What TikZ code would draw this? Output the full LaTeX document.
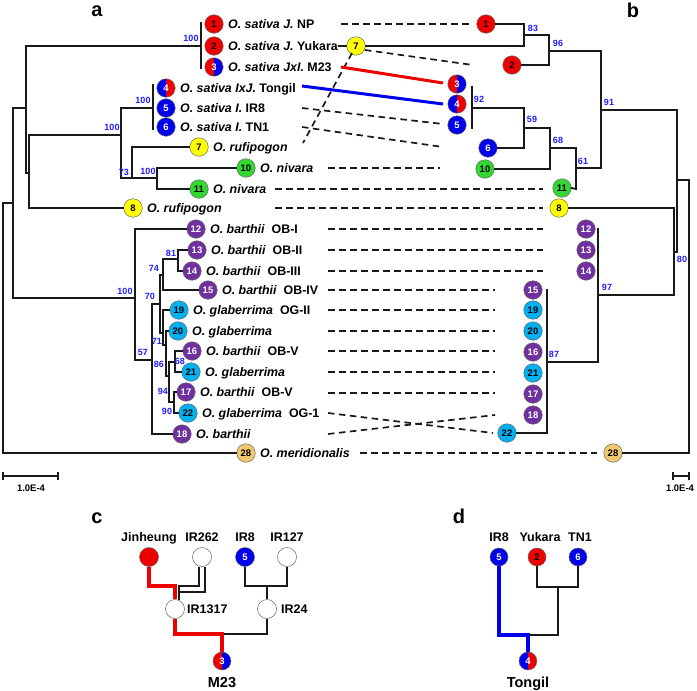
\documentclass[tikz,border=0pt]{standalone}
\usepackage{fontspec}
\setmainfont{Liberation Sans}
\definecolor{cred}{RGB}{237,0,0}
\definecolor{cblue}{RGB}{0,0,235}
\definecolor{cyel}{RGB}{255,255,0}
\definecolor{cgrn}{RGB}{50,215,50}
\definecolor{cpur}{RGB}{112,48,160}
\definecolor{ccyan}{RGB}{0,176,240}
\definecolor{ctan}{RGB}{242,200,110}
\definecolor{bsblue}{RGB}{30,30,255}
\definecolor{lnk}{RGB}{25,25,25}
\newcommand\fsz[1]{\fontsize{#1}{#1}\selectfont}
\begin{document}
\begin{tikzpicture}[x=1pt,y=-1pt,
  br/.style={line width=1.8pt, draw=lnk, line join=miter, line cap=rect},
  dl/.style={line width=1.7pt, draw=lnk, dash pattern=on 6.5pt off 4.5pt},
  bs/.style={text=bsblue, font=\fsz{9}\bfseries, inner sep=0},
  lab/.style={anchor=base west, inner sep=0, yshift=-4.3pt, font=\fsz{12.4}\bfseries},
  panel/.style={inner sep=0, font=\fsz{20}\bfseries},
  cnode/.style={circle, draw=black!60, line width=0.5pt, minimum size=18.5pt, inner sep=0, font=\fsz{9.5}\bfseries},
  cR/.style={cnode, fill=cred, text=black},
  cB/.style={cnode, fill=cblue, text=white},
  cY/.style={cnode, fill=cyel, text=black},
  cG/.style={cnode, fill=cgrn, text=black},
  cP/.style={cnode, fill=cpur, text=white},
  cC/.style={cnode, fill=ccyan, text=black},
  cT/.style={cnode, fill=ctan, text=black},
  cW/.style={cnode, fill=white, minimum size=19pt},
  sRB/.style={cnode, text=white, path picture={\fill[cred] (path picture bounding box.south west) rectangle (path picture bounding box.north); \fill[cblue] (path picture bounding box.south) rectangle (path picture bounding box.north east);}},
  sBR/.style={cnode, text=white, path picture={\fill[cblue] (path picture bounding box.south west) rectangle (path picture bounding box.north); \fill[cred] (path picture bounding box.south) rectangle (path picture bounding box.north east);}},
  plab/.style={anchor=base, inner sep=0, font=\fsz{12.5}\bfseries},
  redped/.style={line width=4pt, draw=cred, line join=miter},
  blueped/.style={line width=4pt, draw=cblue, line join=miter},
  blkped/.style={line width=1.8pt, draw=lnk, line join=miter},
  sbar/.style={line width=1.2pt, draw=lnk}
]
\useasboundingbox (0,0) rectangle (697,691);

% ---------- panel letters
\node[panel] (pa) at (97,11) {a};
\node[panel] (pb) at (633,10) {b};
\node[panel] (pc) at (97,518) {c};
\node[panel] (pd) at (459,516) {d};

% ---------- left tree circles
\node[cR] (L1) at (214,24) {1};
\node[cR] (L2) at (214,46) {2};
\node[sRB] (L3) at (214,67) {3};
\node[sBR] (L4) at (166,88) {4};
\node[cB] (L5) at (166,108) {5};
\node[cB] (L6) at (166,127) {6};
\node[cY] (L7) at (199,147) {7};
\node[cG] (L10) at (246,168) {10};
\node[cG] (L11) at (199,189) {11};
\node[cY] (L8) at (133,208) {8};
\node[cP] (L12) at (196,229) {12};
\node[cP] (L13) at (197,250) {13};
\node[cP] (L14) at (192,271) {14};
\node[cP] (L15) at (208,290) {15};
\node[cC] (L19) at (179,310) {19};
\node[cC] (L20) at (178,331) {20};
\node[cP] (L16) at (192,351) {16};
\node[cC] (L21) at (191,372) {21};
\node[cP] (L17) at (186,392) {17};
\node[cC] (L22) at (188,413) {22};
\node[cP] (L18) at (182,434) {18};
\node[cT] (L28) at (246,453) {28};

% ---------- left labels
\node[lab] (T1) at ([xshift=4.5pt]L1.east) {\textit{O. sativa J.} NP};
\node[lab] (T2) at ([xshift=4.5pt]L2.east) {\textit{O. sativa J.} Yukara};
\node[lab] (T3) at ([xshift=4.5pt]L3.east) {\textit{O. sativa JxI.} M23};
\node[lab] (T4) at ([xshift=4.5pt]L4.east) {\textit{O. sativa IxJ.} Tongil};
\node[lab] (T5) at ([xshift=4.5pt]L5.east) {\textit{O. sativa I.} IR8};
\node[lab] (T6) at ([xshift=4.5pt]L6.east) {\textit{O. sativa I.} TN1};
\node[lab] (T7) at ([xshift=4.5pt]L7.east) {\textit{O. rufipogon}};
\node[lab] (T10) at ([xshift=4.5pt]L10.east) {\textit{O. nivara}};
\node[lab] (T11) at ([xshift=4.5pt]L11.east) {\textit{O. nivara}};
\node[lab] (T8) at ([xshift=4.5pt]L8.east) {\textit{O. rufipogon}};
\node[lab] (T12) at ([xshift=4.5pt]L12.east) {\textit{O. barthii}\ \ OB-I};
\node[lab] (T13) at ([xshift=4.5pt]L13.east) {\textit{O. barthii}\ \ OB-II};
\node[lab] (T14) at ([xshift=4.5pt]L14.east) {\textit{O. barthii}\ \ OB-III};
\node[lab] (T15) at ([xshift=4.5pt]L15.east) {\textit{O. barthii}\ \ OB-IV};
\node[lab] (T19) at ([xshift=4.5pt]L19.east) {\textit{O. glaberrima}\ \ OG-II};
\node[lab] (T20) at ([xshift=4.5pt]L20.east) {\textit{O. glaberrima}};
\node[lab] (T16) at ([xshift=4.5pt]L16.east) {\textit{O. barthii}\ \ OB-V};
\node[lab] (T21) at ([xshift=4.5pt]L21.east) {\textit{O. glaberrima}};
\node[lab] (T17) at ([xshift=4.5pt]L17.east) {\textit{O. barthii}\ \ OB-V};
\node[lab] (T22) at ([xshift=4.5pt]L22.east) {\textit{O. glaberrima}\ \ OG-1};
\node[lab] (T18) at ([xshift=4.5pt]L18.east) {\textit{O. barthii}};
\node[lab] (T28) at ([xshift=4.5pt]L28.east) {\textit{O. meridionalis}};

% ---------- right tree circles
\node[cR] (R1) at (486,24) {1};
\node[cY] (R7) at (356,46) {7};
\node[cR] (R2) at (512,65) {2};
\node[sRB] (R3) at (457,84) {3};
\node[sBR] (R4) at (457,104) {4};
\node[cB] (R5) at (457,125) {5};
\node[cB] (R6) at (488,148) {6};
\node[cG] (R10) at (485,169) {10};
\node[cG] (R11) at (562,188) {11};
\node[cY] (R8) at (559,208) {8};
\node[cP] (R12) at (586,229) {12};
\node[cP] (R13) at (586,250) {13};
\node[cP] (R14) at (586,271) {14};
\node[cP] (R15) at (533,290) {15};
\node[cC] (R19) at (533,310) {19};
\node[cC] (R20) at (533,331) {20};
\node[cP] (R16) at (533,352) {16};
\node[cC] (R21) at (533,373) {21};
\node[cP] (R17) at (533,394) {17};
\node[cP] (R18) at (533,415) {18};
\node[cC] (R22) at (507,433) {22};
\node[cT] (R28) at (613,453) {28};

% ---------- left tree branches
\draw[br] (201,23) -- (201,68);
\draw[br] (26,46) -- (201,46);
\draw[br] (26,46) -- (26,173) -- (29,173);
\draw[br] (29,135) -- (29,208) -- (L8.west);
\draw[br] (13,108) -- (26,108);
\draw[br] (13,108) -- (13,298) -- (135,298);
\draw[br] (3,203) -- (13,203);
\draw[br] (3,203) -- (3,453) -- (L28.west);
\draw[br] (29,135) -- (121,135);
\draw[br] (121,108) -- (121,178) -- (157,178);
\draw[br] (121,108) -- (153,108);
\draw[br] (153,85) -- (153,129);
\draw[br] (L7.west) -- (132,147) -- (132,178);
\draw[br] (L10.west) -- (157,168) -- (157,189) -- (L11.west);
\draw[br] (L12.west) -- (135,229) -- (135,360) -- (152,360);
\draw[br] (152,304) -- (152,434) -- (L18.west);
\draw[br] (152,304) -- (160,304);
\draw[br] (160,275) -- (160,333);
\draw[br] (160,275) -- (163,275);
\draw[br] (178,259) -- (163,259) -- (163,290) -- (L15.west);
\draw[br] (L13.west) -- (178,250) -- (178,271) -- (L14.west);
\draw[br] (160,333) -- (163,333);
\draw[br] (L19.west) -- (163,310) -- (163,345) -- (166,345);
\draw[br] (L20.west) -- (166,331) -- (166,376) -- (169,376);
\draw[br] (169,362) -- (169,402);
\draw[br] (169,362) -- (175,362);
\draw[br] (L16.west) -- (175,351) -- (175,372) -- (L21.west);
\draw[br] (169,402) -- (174,402);
\draw[br] (L17.west) -- (174,392) -- (174,413) -- (L22.west);

% ---------- left bootstrap values
\node[bs] (b1) at (191,38) {100};
\node[bs] (b2) at (143,100) {100};
\node[bs] (b3) at (112,127) {100};
\node[bs] (b4) at (124,172) {73};
\node[bs] (b5) at (148,171) {100};
\node[bs] (b6) at (125,291) {100};
\node[bs] (b7) at (171,253) {81};
\node[bs] (b8) at (154,268) {74};
\node[bs] (b9) at (150,296) {70};
\node[bs] (b10) at (157,341) {71};
\node[bs] (b11) at (143,352) {57};
\node[bs] (b12) at (159,364) {86};
\node[bs] (b13) at (180,361) {68};
\node[bs] (b14) at (163,391) {94};
\node[bs] (b15) at (167,411) {90};

% ---------- right tree branches
\draw[br] (R1.east) -- (524,24) -- (524,46) -- (R7.east);
\draw[br] (524,35) -- (549,35);
\draw[br] (549,35) -- (549,65) -- (R2.east);
\draw[br] (549,51) -- (601,51) -- (601,168) -- (576,168);
\draw[br] (472,87) -- (472,128);
\draw[br] (472,108) -- (524,108) -- (524,148) -- (R6.east);
\draw[br] (524,128) -- (550,128) -- (550,169) -- (R10.east);
\draw[br] (550,148) -- (576,148) -- (576,189) -- (R11.east);
\draw[br] (601,110) -- (677,110) -- (677,252) -- (674,252);
\draw[br] (R8.east) -- (674,208) -- (674,295) -- (598,295);
\draw[br] (598,229) -- (598,362) -- (547,362);
\draw[br] (547,290) -- (547,433) -- (R22.east);
\draw[br] (677,180) -- (689,180) -- (689,453) -- (R28.east);

% ---------- right bootstrap values
\node[bs] (c1) at (533,28) {83};
\node[bs] (c2) at (558,43) {96};
\node[bs] (c3) at (479,99) {92};
\node[bs] (c4) at (532,119) {59};
\node[bs] (c5) at (558,140) {68};
\node[bs] (c6) at (583,161) {61};
\node[bs] (c7) at (609,102) {91};
\node[bs] (c8) at (607,287) {97};
\node[bs] (c9) at (554,354) {87};
\node[bs] (c10) at (682,259) {80};

% ---------- connections between trees
\draw[line width=1.5pt, draw=lnk] (T2.east |- L2) -- (R7.west);
\foreach \n/\xa/\ya/\xb/\yb in {1/341/24/473/24, 2/365/50/473/65, 3/352/53/303/143,
  5/302/108/443/124, 6/302/127/443/147, 10/328/168/440/168, 11/275/189/543/189,
  8/275/208/543/208, 12/328/229/543/229, 13/328/250/543/250, 14/328/271/543/271,
  15/328/290/495/290, 19/328/310/495/310, 20/328/331/495/331, 16/328/351/495/351,
  21/328/372/495/372, 17/328/393/495/393, 22/328/413/493/433, 18/328/434/495/415,
  28/360/453/597/453}{
  \coordinate (da\n) at (\xa,\ya);
  \coordinate (db\n) at (\xb,\yb);
  \draw[dl] (da\n) -- (db\n);
}
\coordinate (ra) at (341,67);
\coordinate (rb) at (443,83);
\coordinate (ua) at (302,86);
\coordinate (ub) at (443,104);
\draw[line width=3pt, draw=cred] (ra) -- (rb);
\draw[line width=3pt, draw=cblue] (ua) -- (ub);

% ---------- scale bars
\coordinate (s1a) at (3,476); \coordinate (s1b) at (58,476);
\draw[sbar] (s1a) -- (s1b);
\draw[sbar] ([yshift=4pt]s1a) -- ([yshift=-4pt]s1a);
\draw[sbar] ([yshift=4pt]s1b) -- ([yshift=-4pt]s1b);
\node[inner sep=0, font=\fsz{9.5}\bfseries] (s1t) at (31,488) {1.0E-4};
\coordinate (s2a) at (673,476); \coordinate (s2b) at (689,476);
\draw[sbar] (s2a) -- (s2b);
\draw[sbar] ([yshift=4pt]s2a) -- ([yshift=-4pt]s2a);
\draw[sbar] ([yshift=4pt]s2b) -- ([yshift=-4pt]s2b);
\node[inner sep=0, font=\fsz{9.5}\bfseries] (s2t) at (680,488) {1.0E-4};

% ---------- panel c pedigree
\node[plab] (tJ) at (149,541) {Jinheung};
\node[plab] (t262) at (202,541) {IR262};
\node[plab] (t8) at (245,541) {IR8};
\node[plab] (t127) at (287,541) {IR127};
\node[cnode, fill=cred, minimum size=19pt] (PJ) at (149,557) {};
\node[cW] (P262) at (202,557) {};
\node[cB, minimum size=19pt, text=white] (P8) at (245,557) {5};
\node[cW] (P127) at (287,557) {};
\node[cW] (P1317) at (175,609) {};
\node[cW] (P24) at (267,609) {};
\node[anchor=west, inner sep=0, font=\fsz{12.5}\bfseries] (t1317) at (187,609) {IR1317};
\node[anchor=west, inner sep=0, font=\fsz{12.5}\bfseries] (t24) at (281,609) {IR24};
\node[sRB, minimum size=18pt] (PM) at (222,661) {3};
\node[anchor=base, inner sep=0, font=\fsz{14.5}\bfseries] (tM) at (222,687) {M23};
\draw[blkped] (P262.south -| 199,0) -- (199,586) -- (178,586);
\draw[blkped] (P262.south -| 205,0) -- (205,592) -- (178,592);
\draw[blkped] (179,586) -- (179,600);
\draw[redped] (PJ.south) -- (149,586) -- (175,586) -- (P1317.north);
\draw[blkped] (P8.south) -- (245,586) -- (287,586) -- (P127.south);
\draw[blkped] (267,586) -- (P24.north);
\draw[blkped] (222,634) -- (267,634) -- (P24.south);
\draw[redped] (P1317.south) -- (175,634) -- (222,634) -- (PM.north);

% ---------- panel d pedigree
\node[plab] (dt8) at (499,541) {IR8};
\node[plab] (dtY) at (540,541) {Yukara};
\node[plab] (dtT) at (580,541) {TN1};
\node[cB, minimum size=18pt] (D5) at (499,557) {5};
\node[cR, minimum size=18pt] (D2) at (537,557) {2};
\node[cB, minimum size=18pt] (D6) at (578,557) {6};
\node[sBR, minimum size=18pt] (DT) at (528,661) {4};
\node[anchor=base, inner sep=0, font=\fsz{14.5}\bfseries] (tT) at (528,687) {Tongil};
\draw[blkped] (D2.south) -- (537,587) -- (578,587) -- (D6.south);
\draw[blkped] (558,587) -- (558,635) -- (528,635);
\draw[blueped] (D5.south) -- (499,635) -- (528,635) -- (DT.north);
\end{tikzpicture}
\end{document}
